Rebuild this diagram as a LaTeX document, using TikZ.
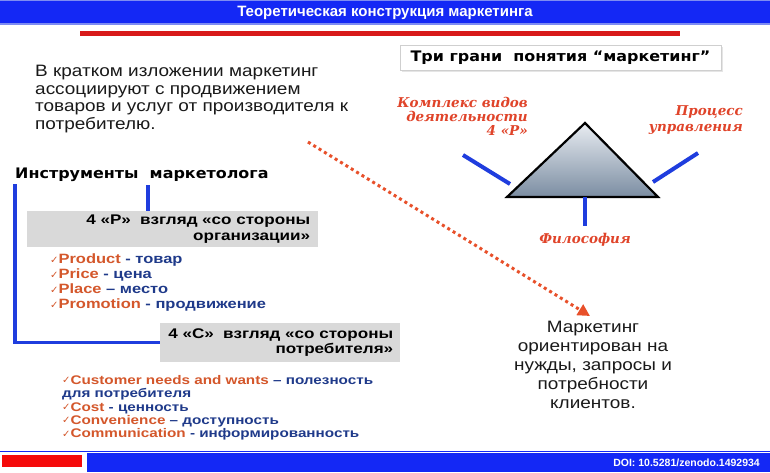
\documentclass[tikz,border=0pt]{standalone}
\usepackage{fontspec}
\setmainfont{Liberation Sans}
\newfontfamily\headfont[FakeStretch=1.1]{DejaVu Sans}
\newfontfamily\bodyfont[FakeStretch=1.15]{Liberation Sans}
\newfontfamily\widefont[FakeStretch=1.22]{Liberation Sans}
\newfontfamily\labelfont{DejaVu Serif}
\newfontfamily\symfont{DejaVu Sans}
\usetikzlibrary{arrows.meta,positioning,shadows}
\definecolor{BandBlue}{HTML}{1428F5}
\definecolor{BandEdge}{HTML}{7E8CF2}
\definecolor{RuleRed}{HTML}{D81A1A}
\definecolor{FrameGray}{HTML}{CFCFCF}
\definecolor{BoxGray}{HTML}{D9D9D9}
\definecolor{BracketBlue}{HTML}{1F3DDE}
\definecolor{AccentOrange}{HTML}{D4572B}
\definecolor{ListBlue}{HTML}{1F3A8A}
\definecolor{LabelRed}{HTML}{E0442A}
\definecolor{DotRed}{HTML}{E8502A}
\definecolor{TriTop}{HTML}{E8ECF1}
\definecolor{TriBottom}{HTML}{7B8DA2}
\definecolor{FlagRed}{HTML}{F50A0A}
\definecolor{Ink}{HTML}{1A1A1A}
\newcommand{\okmark}{{\symfont\color{AccentOrange}\fontsize{10}{8}\selectfont\raisebox{0.5pt}{✓}}}
\newcommand{\pitem}[3]{\okmark\textcolor{AccentOrange}{#1}\ \textcolor{ListBlue}{#2\ #3}}

\begin{document}
\begin{tikzpicture}[x=1pt,y=-1pt,
  bandtitle/.style={text=white,inner sep=0pt,font=\bfseries\fontsize{15}{15}\selectfont},
  framebox/.style={draw=FrameGray,fill=white,minimum width=321pt,minimum height=25pt,inner sep=0pt,font=\headfont\bfseries\fontsize{14.5}{14}\selectfont,drop shadow={opacity=0.2,shadow xshift=1.5pt,shadow yshift=-1.5pt}},
  heading/.style={anchor=base west,inner sep=0pt,font=\headfont\bfseries\fontsize{14.5}{15}\selectfont},
  plaintext/.style={inner sep=0pt,text=Ink,font=\bodyfont\fontsize{16.5}{17.7}\selectfont},
  viewbox/.style={fill=BoxGray,anchor=north west,inner xsep=8pt,inner ysep=0pt,align=right,font=\widefont\bfseries\fontsize{14}{15.5}\selectfont},
  toollist/.style={anchor=north west,inner sep=0pt,align=left,font=\widefont\bfseries\fontsize{13.5}{15}\selectfont},
  facet/.style={inner sep=0pt,text=LabelRed,font=\labelfont\bfseries\itshape\fontsize{13.5}{14}\selectfont},
  bracket/.style={draw=BracketBlue,line width=3.5pt},
  facetline/.style={draw=BracketBlue,line width=4pt},
  dotarrow/.style={draw=DotRed,line width=3pt,dash pattern=on 3pt off 3.3pt,-{Triangle[length=12pt,width=12pt]}}
]
\useasboundingbox (0,0) rectangle (770,472);
\fill[white] (0,0) rectangle (770,472);
\fill[BandBlue] (0,0) rectangle (770,24);
\fill[BandEdge] (0,0) rectangle (770,1.2);
\fill[BandEdge] (0,22.8) rectangle (770,24.5);
\node[bandtitle] (title) at (385,12.5) {Теоретическая конструкция маркетинга};
\fill[RuleRed] (80,31) rectangle (680,35.5);
\node[framebox] (facets) at (560.5,57.5) {Три грани\ \ понятия “маркетинг”};
\node[plaintext,anchor=north west,align=left] (intro) at (35,65) {
  В кратком изложении маркетинг\\
  ассоциируют с продвижением\\
  товаров и услуг от производителя к\\
  потребителю.
};
\node[heading] (tools) at (15,178) {Инструменты\ \ маркетолога};
\node[viewbox,minimum width=291pt,minimum height=36pt,text width=275pt] (boxP) at (27,211) {
  4 «Р»\ \ взгляд «со стороны\\
  организации»
};
\node[toollist] (listP) at (50,254) {
  \pitem{Product}{-}{товар}\\
  \pitem{Price}{-}{цена}\\
  \pitem{Place}{–}{место}\\
  \pitem{Promotion}{-}{продвижение}
};
\node[viewbox,minimum width=240pt,minimum height=39pt,text width=226pt,inner xsep=7pt] (boxC) at (160,323) {
  4 «С»\ \ взгляд «со стороны\\
  потребителя»
};
\node[toollist,font=\widefont\bfseries\fontsize{12.5}{13.4}\selectfont] (listC) at (62,375) {
  \pitem{Customer needs and wants}{–}{полезность}\\
  \textcolor{ListBlue}{для потребителя}\\
  \pitem{Cost}{-}{ценность}\\
  \pitem{Convenience}{–}{доступность}\\
  \pitem{Communication}{-}{информированность}
};
\coordinate (split) at (148,185);
\draw[bracket] ([yshift=-6pt]tools.base west) |- (boxC.west);
\draw[bracket] (split) -- (split |- boxP.north);
\coordinate (apex) at (585,123);
\coordinate (baseL) at (507,197);
\coordinate (baseR) at (658,197);
\shade[top color=TriTop,bottom color=TriBottom] (apex) -- (baseL) -- (baseR) -- cycle;
\draw[black,line width=2.2pt,line join=miter] (apex) -- (baseL) -- (baseR) -- cycle;
\node[facet,anchor=north east,align=right] (complex) at (528,97) {
  Комплекс видов\\
  деятельности\\
  4 «Р»
};
\node[facet,anchor=north east,align=right,font=\labelfont\bfseries\itshape\fontsize{13.5}{16}\selectfont] (process) at (743,105) {
  Процесс\\
  управления
};
\node[facet,anchor=base] (philo) at (585,243) {Философия};
\draw[facetline] (463,155) -- (510,184);
\draw[facetline] (653,182) -- (698,153);
\draw[facetline] (585,197) -- (585,226);
\node[plaintext,align=center,anchor=north,inner sep=5pt,font=\bodyfont\fontsize{16.5}{19}\selectfont] (market) at (593,316) {
  Маркетинг\\
  ориентирован на\\
  нужды, запросы и\\
  потребности\\
  клиентов.
};
\coordinate (dotstart) at (308,142);
\draw[dotarrow] (dotstart) -- ([xshift=-3pt]market.north);
\draw[BandBlue,line width=1.2pt] (0,451.5) -- (770,451.5);
\fill[BandBlue] (87,453) rectangle (770,472);
\fill[FlagRed] (2,455) rectangle (82,467);
\node[text=white,anchor=base east,inner sep=0pt,font=\bfseries\fontsize{10.5}{10}\selectfont] (doi) at (760,466) {DOI: 10.5281/zenodo.1492934};
\end{tikzpicture}
\end{document}
